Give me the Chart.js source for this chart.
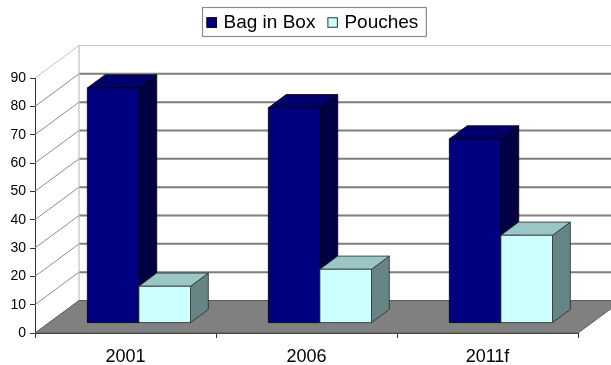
<!DOCTYPE html>
<html>
<head>
<meta charset="utf-8">
<script src="https://cdn.jsdelivr.net/npm/chart.js@4"></script>
<style>
  html, body { margin: 0; padding: 0; background: #ffffff; }
  #wrap { width: 611px; height: 365px; }
</style>
</head>
<body>
<div id="wrap"><canvas id="chart" width="611" height="365"></canvas></div>
<script>
// Market share by pack type
const categories = ['2001', '2006', '2011f'];
const seriesNames = ['Bag in Box', 'Pouches'];
const bagInBox = [83, 76, 65];
const pouches = [13, 19, 31];
const yTickValues = [0, 10, 20, 30, 40, 50, 60, 70, 80, 90];

// Face colours for each series: front, top, side, edge
const faceColors = [
  { front: '#000080', top: '#00006a', side: '#000042', edge: '#000000' },
  { front: '#ccffff', top: '#9bc6c6', side: '#678585', edge: '#2a2a2a' }
];

// Oblique depth of the plot box (full depth), and where the columns sit inside it
const DEPTH_X = 44;
const DEPTH_Y = 32.5;
const COL_FRONT = 0.305;
const COL_BACK = 0.71;

function proj(px, py, t) {
  return [px + t * DEPTH_X, py - t * DEPTH_Y];
}

function poly(ctx, pts, fill, stroke, lw) {
  ctx.beginPath();
  ctx.moveTo(pts[0][0], pts[0][1]);
  for (let i = 1; i < pts.length; i++) ctx.lineTo(pts[i][0], pts[i][1]);
  ctx.closePath();
  if (fill) { ctx.fillStyle = fill; ctx.fill(); }
  if (stroke) { ctx.strokeStyle = stroke; ctx.lineWidth = lw || 1; ctx.stroke(); }
}

function line(ctx, a, b, color, lw) {
  ctx.beginPath();
  ctx.moveTo(a[0], a[1]);
  ctx.lineTo(b[0], b[1]);
  ctx.strokeStyle = color;
  ctx.lineWidth = lw;
  ctx.stroke();
}

// Walls, floor and 3D columns, placed through the chart's own scales
const box3d = {
  id: 'box3d',
  beforeDatasetsDraw(chart) {
    const ctx = chart.ctx;
    const ca = chart.chartArea;
    const yScale = chart.scales.y;
    ctx.save();

    // side wall and back wall grid
    yTickValues.forEach((v) => {
      const py = yScale.getPixelForValue(v);
      if (v === 0) return;
      const back = proj(ca.left, py, 1);
      const isTop = v === yTickValues[yTickValues.length - 1];
      line(ctx, [ca.left, py], back, isTop ? '#c4c4c4' : '#8c8c8c', 1);
      line(ctx, back, proj(ca.right, py, 1), isTop ? '#c8c8c8' : '#7e7e7e', isTop ? 1.2 : 2);
    });
    line(ctx, proj(ca.left, ca.top, 1), proj(ca.left, ca.bottom, 1), '#c0c0c0', 1.2);

    // floor
    poly(ctx, [
      [ca.left, ca.bottom],
      [ca.right, ca.bottom],
      proj(ca.right, ca.bottom, 1),
      proj(ca.left, ca.bottom, 1)
    ], '#808080', '#5a5a5a', 1);

    // columns, category by category, back series first
    const metas = chart.data.datasets.map((_, i) => chart.getDatasetMeta(i));
    for (let j = 0; j < chart.data.labels.length; j++) {
      metas.forEach((meta, i) => {
        const el = meta.data[j];
        const c = faceColors[i];
        const L = el.x - el.width / 2;
        const R = el.x + el.width / 2;
        const T = el.y;
        const B = el.base;
        const fTL = proj(L, T, COL_FRONT), fTR = proj(R, T, COL_FRONT);
        const fBL = proj(L, B, COL_FRONT), fBR = proj(R, B, COL_FRONT);
        const bTL = proj(L, T, COL_BACK), bTR = proj(R, T, COL_BACK);
        const bBR = proj(R, B, COL_BACK);
        poly(ctx, [fTR, fBR, bBR, bTR], c.side, c.edge, 0.8);
        poly(ctx, [fTL, fTR, bTR, bTL], c.top, c.edge, 0.8);
        poly(ctx, [fTL, fTR, fBR, fBL], c.front, c.edge, 0.8);
      });
    }
    ctx.restore();
  }
};

// Boxed legend above the plot
const boxedLegend = {
  id: 'boxedLegend',
  afterDraw(chart) {
    const ctx = chart.ctx;
    ctx.save();
    const left = 202, top = 7, height = 29;
    const font = '19px "Liberation Sans", Arial, sans-serif';
    ctx.font = font;
    const sq = 10.5, gapSq = 6.5, gapItem = 12, padL = 4.5, padR = 7.5;
    let width = padL;
    const widths = chart.data.datasets.map(d => ctx.measureText(d.label).width);
    widths.forEach((w, i) => { width += sq + gapSq + w + (i < widths.length - 1 ? gapItem : 0); });
    width += padR;

    ctx.fillStyle = '#ffffff';
    ctx.fillRect(left, top, width, height);
    ctx.strokeStyle = '#8a8a8a';
    ctx.lineWidth = 1.2;
    ctx.strokeRect(left + 0.5, top + 0.5, width, height);

    let x = left + padL;
    const cy = top + height / 2 + 1;
    chart.data.datasets.forEach((d, i) => {
      ctx.fillStyle = faceColors[i].front;
      ctx.fillRect(x, cy - sq / 2, sq, sq);
      ctx.strokeStyle = i === 0 ? '#000000' : '#333333';
      ctx.lineWidth = 1;
      ctx.strokeRect(x + 0.5, cy - sq / 2 + 0.5, sq - 1, sq - 1);
      x += sq + gapSq;
      ctx.fillStyle = '#000000';
      ctx.textBaseline = 'middle';
      ctx.textAlign = 'left';
      ctx.fillText(d.label, x, cy + 0.5);
      x += widths[i] + gapItem;
    });
    ctx.restore();
  }
};

new Chart(document.getElementById('chart'), {
  type: 'bar',
  data: {
    labels: categories,
    datasets: [
      { label: seriesNames[0], data: bagInBox },
      { label: seriesNames[1], data: pouches }
    ].map(d => Object.assign(d, {
      backgroundColor: 'rgba(0,0,0,0)',
      borderWidth: 0,
      barPercentage: 1,
      categoryPercentage: 0.57
    }))
  },
  options: {
    responsive: false,
    animation: false,
    events: [],
    layout: { padding: { top: 78, right: 33, left: 0, bottom: 0 } },
    plugins: {
      legend: { display: false },
      tooltip: { enabled: false }
    },
    scales: {
      x: {
        grid: { drawOnChartArea: false, drawTicks: true, tickLength: 5, color: '#333333', offset: true },
        border: { color: '#333333', width: 1 },
        ticks: {
          color: '#000000',
          padding: 8,
          font: { family: '"Liberation Sans", Arial, sans-serif', size: 18 }
        },
        afterFit(scale) { scale.height = 32; }
      },
      y: {
        min: 0,
        max: 90,
        afterBuildTicks(scale) { scale.ticks = yTickValues.map(v => ({ value: v })); },
        grid: { drawOnChartArea: false, drawTicks: true, tickLength: 5, color: '#333333' },
        border: { color: '#333333', width: 1 },
        ticks: {
          color: '#000000',
          padding: 4,
          font: { family: '"Liberation Sans", Arial, sans-serif', size: 14 }
        },
        afterFit(scale) { scale.width = 35; }
      }
    }
  },
  plugins: [box3d, boxedLegend]
});
</script>
</body>
</html>
